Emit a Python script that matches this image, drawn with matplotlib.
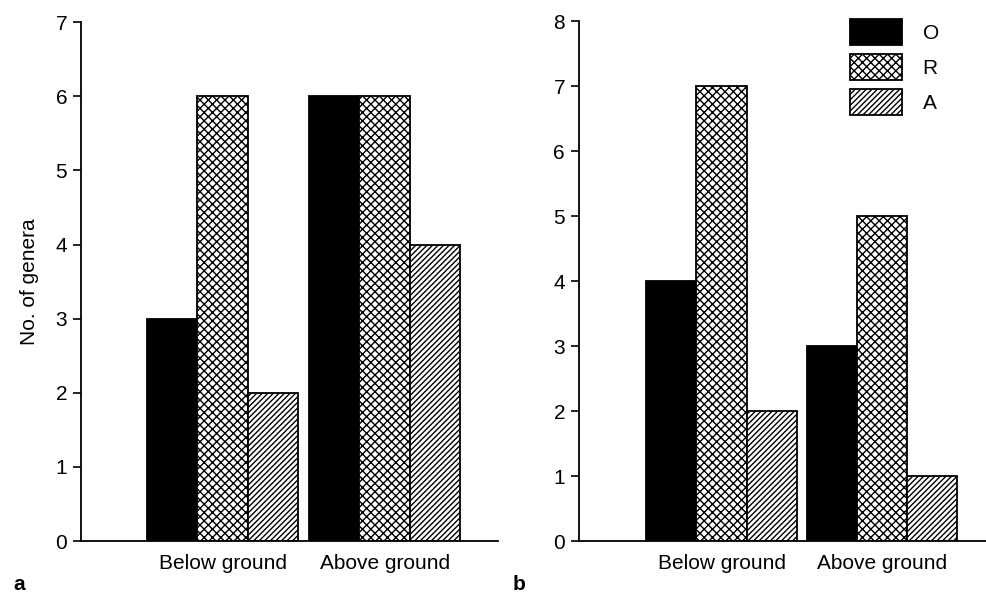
import numpy as np
import matplotlib
matplotlib.use("Agg")
import matplotlib.pyplot as plt

# ==========================
# Data
# ==========================
groups = ["Below ground", "Above ground"]
series = ["O", "R", "A"]
panel_a = {"O": [3, 6], "R": [6, 6], "A": [2, 4]}
panel_b = {"O": [4, 3], "R": [7, 5], "A": [2, 1]}

styles = {
    "O": dict(color="black", hatch=None),
    "R": dict(color="white", hatch="xxxx"),
    "A": dict(color="white", hatch="//////"),
}

plt.rcParams["font.family"] = ["Liberation Sans", "DejaVu Sans"]
plt.rcParams["hatch.linewidth"] = 1.0

fig = plt.figure(figsize=(9.87, 5.99), dpi=100)
ax_a = fig.add_axes([0.0821, 0.0968, 0.4225, 0.866])
ax_b = fig.add_axes([0.5866, 0.0968, 0.4134, 0.868])

width = 0.312
x = np.arange(len(groups))


def draw_panel(ax, data, ymax, xlim):
    for i, s in enumerate(series):
        st = styles[s]
        ax.bar(x + (i - 1) * width, data[s], width,
               facecolor=st["color"], edgecolor="black",
               hatch=st["hatch"], linewidth=1.3, label=s, zorder=2)
    ax.set_ylim(0, ymax)
    ax.set_xlim(*xlim)
    ax.set_yticks(range(ymax + 1))
    ax.set_xticks(x)
    ax.set_xticklabels(groups)
    ax.spines["top"].set_visible(False)
    ax.spines["right"].set_visible(False)
    ax.spines["left"].set_linewidth(1.3)
    ax.spines["bottom"].set_linewidth(1.3)
    ax.tick_params(axis="y", length=6, width=1.2, labelsize=15, pad=4)
    ax.tick_params(axis="x", length=0, labelsize=15, pad=9)


draw_panel(ax_a, panel_a, 7, (-0.873, 1.70))
draw_panel(ax_b, panel_b, 8, (-0.888, 1.654))

ax_a.set_ylabel("No. of genera", fontsize=15, labelpad=12)

ax_b.legend(loc="upper right", bbox_to_anchor=(0.928, 1.04), frameon=False,
            fontsize=15, handlelength=2.5, handleheight=1.55,
            labelspacing=0.42, handletextpad=1.0)

fig.text(0.014, 0.025, "a", fontsize=15, fontweight="bold", va="center")
fig.text(0.519, 0.025, "b", fontsize=15, fontweight="bold", va="center")

plt.savefig("out.png", dpi=100)
plt.close()
